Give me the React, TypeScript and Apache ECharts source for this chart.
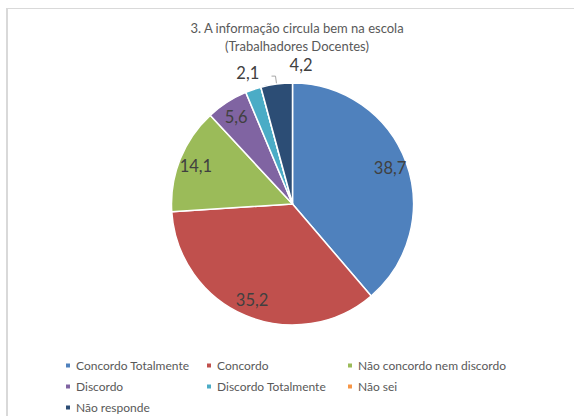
import React, { useEffect, useRef } from "react";
import * as echarts from "echarts";

const categories = [
  "Concordo Totalmente",
  "Concordo",
  "Não concordo nem discordo",
  "Discordo",
  "Discordo Totalmente",
  "Não sei",
  "Não responde",
];
const values = [38.7, 35.2, 14.1, 5.6, 2.1, 0, 4.2];
const colors = ["#4F81BD", "#C0504D", "#9BBB59", "#8064A2", "#4BACC6", "#F79646", "#2C4D75"];
const insideLabelIdx = [0, 1, 2, 3];
const outsideLabelIdx = [4];
const leaderLabelIdx = [6];
const legendColumns = [
  ["Concordo Totalmente", "Discordo", "Não responde"],
  ["Concordo", "Discordo Totalmente"],
  ["Não concordo nem discordo", "Não sei"],
];
const titleLines = ["3. A informação circula bem na escola", "(Trabalhadores Docentes)"];

const FONT = "Lato, 'Open Sans', sans-serif";
const fmt = (v: number) => v.toFixed(1).replace(".", ",");

export default function App() {
  const ref = useRef<HTMLDivElement>(null);
  useEffect(() => {
    if (!ref.current) return;
    const chart = echarts.init(ref.current, null, { renderer: "svg" });
    const center = [292.5, 204];
    const R = 121;
    const labelStyle = {
      fontFamily: FONT,
      fontSize: 16.5,
      color: "#404040",
      formatter: (p: any) => fmt(p.value),
    };
    const legendLefts = [64, 205, 346];
    chart.setOption({
      animation: false,
      backgroundColor: "#ffffff",
      title: {
        text: titleLines.join("\n"),
        left: 292,
        textAlign: "center",
        top: 14,
        textStyle: { fontFamily: FONT, fontSize: 13, fontWeight: "normal", color: "#595959", lineHeight: 18 },
      },
      legend: legendColumns.map((col, ci) => ({
        data: col,
        orient: "vertical",
        left: legendLefts[ci],
        top: 359,
        height: 60,
        padding: 0,
        icon: "rect",
        itemWidth: 6,
        itemHeight: 6,
        itemGap: 8,
        textStyle: { fontFamily: FONT, fontSize: 12, color: "#595959", lineHeight: 13 },
      })),
      graphic: [
        { type: "line", shape: { x1: 6, y1: 8.5, x2: 574, y2: 8.5 }, style: { stroke: "#D9D9D9", lineWidth: 1 } },
        { type: "line", shape: { x1: 7, y1: 8, x2: 7, y2: 416 }, style: { stroke: "#D9D9D9", lineWidth: 2 } },
      ],
      series: [
        {
          type: "pie",
          center,
          radius: R,
          startAngle: 90,
          clockwise: true,
          avoidLabelOverlap: false,
          itemStyle: { borderColor: "#ffffff", borderWidth: 1.5 },
          label: { show: false, position: "outside", ...labelStyle },
          labelLine: { show: false, length: 8, length2: 4, lineStyle: { color: "#A6A6A6", width: 1 } },
          labelLayout: (p: any) => (leaderLabelIdx.includes(p.dataIndex) ? { dx: 46, dy: -11 } : {}),
          emphasis: { disabled: true },
          data: categories.map((n, i) => ({
            name: n,
            value: values[i],
            itemStyle: { color: colors[i] },
            label: { show: leaderLabelIdx.includes(i) },
            labelLine: { show: leaderLabelIdx.includes(i) },
          })),
        },
        {
          type: "pie",
          center,
          radius: [80, 122],
          startAngle: 90,
          clockwise: true,
          silent: true,
          legendHoverLink: false,
          avoidLabelOverlap: false,
          itemStyle: { color: "rgba(0,0,0,0)", borderWidth: 0 },
          label: { position: "inside", ...labelStyle },
          labelLine: { show: false },
          emphasis: { disabled: true },
          data: categories.map((n, i) => ({
            name: n,
            value: values[i],
            label: { show: insideLabelIdx.includes(i) },
          })),
        },
        {
          type: "pie",
          center,
          radius: [124, 146],
          startAngle: 90,
          clockwise: true,
          silent: true,
          legendHoverLink: false,
          avoidLabelOverlap: false,
          itemStyle: { color: "rgba(0,0,0,0)", borderWidth: 0 },
          label: { position: "inside", ...labelStyle },
          labelLine: { show: false },
          emphasis: { disabled: true },
          data: categories.map((n, i) => ({
            name: n,
            value: values[i],
            label: { show: outsideLabelIdx.includes(i) },
          })),
        },
      ],
    });
    return () => chart.dispose();
  }, []);
  return (
    <div
      ref={ref}
      style={{ position: "absolute", left: 0, top: 0, width: 574, height: 416 }}
    />
  );
}
